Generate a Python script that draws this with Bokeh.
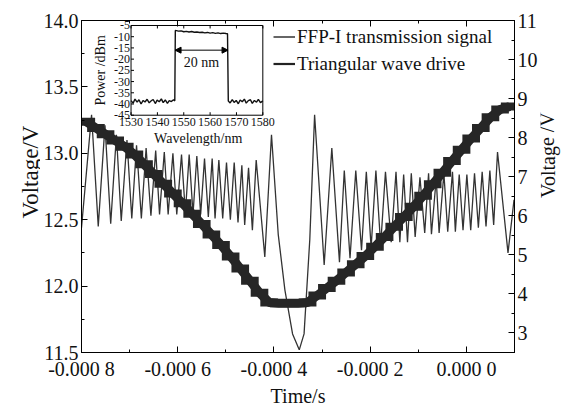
from bokeh.plotting import figure
from bokeh.layouts import row
from bokeh.models import (Range1d, LinearAxis, FixedTicker, CustomJSTickFormatter,
                          NumeralTickFormatter, Legend, LegendItem, Arrow, NormalHead)
from bokeh.core.properties import value
from bokeh.embed import file_html
from bokeh.resources import INLINE

FONT = "Liberation Serif"

# ---- FFP-I transmission signal: extrema (time in microseconds, left axis V)
sig_t_us = [-800, -779.1, -765.2, -751.2, -739.3, -727.4, -717.4, -705.5, -695.5, -685.6,
            -675.6, -665.7, -655.7, -645.8, -637.8, -627.9, -619.9, -610.0, -602.0, -592.1,
            -584.1, -576.2, -568.2, -560.3, -552.3, -544.3, -536.4, -528.4, -522.4, -514.5,
            -506.5, -498.6, -490.6, -482.6, -474.7, -466.7, -460.8, -452.8, -444.8, -436.9,
            -419.0, -405.1, -391.1, -377.2, -361.3, -347.4, -337.4, -325.5, -315.5, -295.6,
            -279.7, -263.8, -253.8, -241.9, -229.9, -218.0, -208.0, -198.0, -188.1, -178.2,
            -168.2, -156.3, -146.3, -138.3, -130.4, -122.4, -114.5, -106.5, -96.5, -86.6,
            -78.6, -72.6, -62.7, -56.7, -46.8, -38.8, -28.9, -22.9, -14.9, -7.0,
            1.0, 9.0, 16.9, 24.9, 32.8, 40.8, 48.8, 56.7, 64.7, 86.5, 99.0]
sig_v = [12.44, 13.29, 12.45, 13.21, 12.47, 13.14, 12.49, 13.10, 12.51, 13.06,
         12.51, 13.04, 12.53, 13.02, 12.54, 13.01, 12.54, 13.00, 12.54, 12.99,
         12.55, 12.99, 12.54, 12.98, 12.54, 12.96, 12.52, 12.96, 12.51, 12.95,
         12.51, 12.93, 12.50, 12.93, 12.48, 12.91, 12.46, 12.89, 12.42, 12.95,
         12.22, 13.14, 12.39, 11.97, 11.64, 11.52, 11.64, 12.35, 13.29, 12.16,
         13.04, 12.18, 12.87, 12.21, 12.87, 12.27, 12.86, 12.29, 12.87, 12.31,
         12.86, 12.33, 12.86, 12.33, 12.84, 12.33, 12.85, 12.37, 12.82, 12.40,
         12.85, 12.39, 12.81, 12.40, 12.85, 12.41, 12.86, 12.41, 12.84, 12.42,
         12.84, 12.42, 12.85, 12.44, 12.86, 12.45, 12.87, 12.46, 13.01, 12.25, 12.65]

# ---- Triangular wave drive: staircase levels (step start time in microseconds, right axis V)
tri_t_us = [-800, -780, -760, -740, -720, -700, -680, -660, -640, -620,
            -600, -580, -560, -540, -520, -500, -480, -460, -440, -420,
            -400, -380, -360, -340, -320, -300, -280, -260, -240, -220,
            -200, -180, -160, -140, -120, -100, -80, -60, -40, -20,
            0, 20, 40, 60, 80, 100]
tri_v = [8.41, 8.25, 8.09, 7.93, 7.77, 7.57, 7.32, 7.07, 6.82, 6.57,
         6.32, 6.05, 5.79, 5.52, 5.25, 4.96, 4.65, 4.34, 4.03, 3.78,
         3.76, 3.76, 3.76, 3.78, 3.96, 4.15, 4.34, 4.55, 4.76, 4.97,
         5.21, 5.46, 5.72, 5.97, 6.23, 6.51, 6.81, 7.10, 7.40, 7.69,
         7.98, 8.25, 8.52, 8.72, 8.80, 8.80]

# ---- Inset: spectrum (wavelength nm, power dBm)
ins_wl = [1530.0, 1530.8, 1531.5, 1532.3, 1533.0, 1533.8, 1534.6, 1535.3, 1536.1, 1536.9,
          1537.6, 1538.4, 1539.2, 1539.9, 1540.7, 1541.5, 1542.2, 1543.0, 1543.8, 1544.5,
          1545.3, 1546.1, 1546.6, 1546.8, 1548.0, 1549.0, 1550.0, 1551.0, 1552.0, 1553.0,
          1554.0, 1555.0, 1556.0, 1557.0, 1558.0, 1559.0, 1560.0, 1561.0, 1562.0, 1563.0,
          1564.0, 1565.0, 1566.0, 1566.6, 1566.9, 1567.6, 1568.4, 1569.1, 1569.9, 1570.7,
          1571.4, 1572.2, 1573.0, 1573.7, 1574.5, 1575.3, 1576.0, 1576.8, 1577.6, 1578.3,
          1579.1, 1580.0]
ins_p = [-38.5, -39.6, -37.8, -39.2, -38.1, -40.0, -38.4, -39.1, -37.9, -39.5,
         -38.6, -38.0, -39.8, -38.3, -39.0, -37.7, -39.4, -38.2, -39.7, -38.5,
         -38.9, -38.1, -38.6, -7.2, -7.5, -7.4, -7.8, -7.6, -7.9, -7.7,
         -8.0, -7.9, -8.1, -8.0, -8.3, -8.1, -8.4, -8.2, -8.5, -8.3,
         -8.6, -8.4, -8.6, -8.7, -38.7, -39.5, -38.0, -39.3, -38.4, -39.9,
         -38.2, -39.0, -37.8, -39.6, -38.5, -38.1, -39.7, -38.4, -39.2, -37.9,
         -39.4, -38.6]
ins_xticks = [1530, 1540, 1550, 1560, 1570, 1580]
ins_yticks = [-5, -10, -15, -20, -25, -30, -35, -40, -45]
arrow_wl = [1546.7, 1566.8]
arrow_p = -16.0
arrow_label = "20 nm"

x_major = [-0.0008, -0.0006, -0.0004, -0.0002, 0.0]
x_minor = [-0.0007, -0.0005, -0.0003, -0.0001, 0.0001]
yl_major = [11.5, 12.0, 12.5, 13.0, 13.5, 14.0]
yl_minor = [11.75, 12.25, 12.75, 13.25, 13.75]
yr_major = [3, 4, 5, 6, 7, 8, 9, 10, 11]
yr_minor = [2.5, 3.5, 4.5, 5.5, 6.5, 7.5, 8.5, 9.5, 10.5]
left_title = "Voltage/V"
right_title = "Voltage /V"

sig_t = [t * 1e-6 for t in sig_t_us]
tri_t = [t * 1e-6 for t in tri_t_us]
tri_mid_t = [(a + b) / 2 * 1e-6 for a, b in zip(tri_t_us[:-1], tri_t_us[1:])]
tri_mid_v = tri_v[:-1]

# layout constants (pixels)
W, H = 572, 409
LW = 40                                    # left strip (vertical title)
FL, FR, FT, FB = 79, 516, 20, 353          # main frame
P_END = FR + 24                            # main figure ends after the right tick labels
RW = W - P_END                             # right strip (vertical title)
IL, IR, IT, IB = 129, 262, 25, 115         # inset frame
sx = (1580 - 1530) / (IR - IL)
sy = (-5 - (-45)) / (IB - IT)
PW = P_END - LW

p = figure(width=PW, height=H, x_range=Range1d(-0.0008, 0.0001), y_range=Range1d(11.5, 14.0),
           output_backend="svg", toolbar_location=None,
           min_border_left=FL - LW, min_border_right=P_END - FR, min_border_top=FT,
           min_border_bottom=H - FB)
p.extra_y_ranges = {"right": Range1d(2.5, 11.0),
                    "iy": Range1d(-45 - (FB - IB) * sy, -5 + (IT - FT) * sy)}
p.extra_x_ranges = {"ix": Range1d(1530 - (IL - FL) * sx, 1580 + (FR - IR) * sx)}
p.grid.visible = False
p.outline_line_color = "black"
p.outline_line_width = 1
p.background_fill_color = "white"
p.border_fill_color = "white"

def style_axis(ax, size="20px"):
    ax.axis_line_color = "black"
    ax.major_tick_in = 6
    ax.major_tick_out = 0
    ax.minor_tick_in = 3
    ax.minor_tick_out = 0
    ax.major_tick_line_color = "black"
    ax.minor_tick_line_color = "black"
    ax.major_label_text_font = FONT
    ax.major_label_text_font_size = size
    ax.major_label_text_color = "#111111"
    ax.axis_label_text_font = FONT
    ax.axis_label_text_font_size = "20px"
    ax.axis_label_text_font_style = "normal"
    ax.axis_label_text_color = "#111111"

xa = p.xaxis[0]
style_axis(xa)
xa.ticker = FixedTicker(ticks=x_major, minor_ticks=x_minor)
xa.formatter = CustomJSTickFormatter(code="""
const v = Math.round(tick * 1e4);
return (v < 0 ? '-' : '') + '0.000 ' + Math.abs(v);
""")
xa.axis_label = "Time/s"
xa.major_label_standoff = 5
xa.axis_label_standoff = 2

ya = p.yaxis[0]
style_axis(ya)
ya.ticker = FixedTicker(ticks=yl_major, minor_ticks=yl_minor)
ya.formatter = NumeralTickFormatter(format="0.0")
ya.major_label_standoff = 3

ra = LinearAxis(y_range_name="right")
style_axis(ra)
ra.ticker = FixedTicker(ticks=yr_major, minor_ticks=yr_minor)
ra.major_label_standoff = 3
p.add_layout(ra, "right")

ta = LinearAxis()
style_axis(ta, size="0px")
ta.ticker = FixedTicker(ticks=x_major, minor_ticks=x_minor)
ta.major_label_standoff = 0
p.add_layout(ta, "above")

# main data
p.line(sig_t, sig_v, line_color="#333333", line_width=1.3)
p.line(tri_mid_t, tri_mid_v, y_range_name="right", line_color="#262626", line_width=9)
p.step(tri_t, tri_v, mode="after", y_range_name="right", line_color="#262626",
       line_width=8, line_join="miter")

# legend (off-screen dummy renderers with thin lines)
r1 = p.line([-1.0, -0.9], [0, 0], line_color="#333333", line_width=1.5)
r2 = p.line([-1.0, -0.9], [0, 0], line_color="#222222", line_width=2.2)
leg = Legend(items=[LegendItem(label="FFP-I transmission signal", renderers=[r1]),
                    LegendItem(label="Triangular wave drive", renderers=[r2])],
             location=(192, 276), orientation="vertical")
leg.background_fill_alpha = 0
leg.border_line_alpha = 0
leg.label_text_font = FONT
leg.label_text_font_size = "19px"
leg.label_text_color = "#111111"
leg.glyph_width = 22
leg.glyph_height = 25
leg.label_height = 25
leg.label_standoff = 2
leg.spacing = 2
leg.padding = 0
leg.margin = 0
p.add_layout(leg, "center")

# inset
p.quad(left=[1530], right=[1580], bottom=[-45], top=[-5], x_range_name="ix", y_range_name="iy",
       fill_color="white", line_color="black", line_width=1)
p.line(ins_wl, ins_p, x_range_name="ix", y_range_name="iy", line_color="#111111", line_width=1.4)
tlx = 3 * sy
tly = 3 * sx
p.segment(x0=ins_xticks, x1=ins_xticks, y0=[-45] * len(ins_xticks), y1=[-45 + tlx] * len(ins_xticks),
          x_range_name="ix", y_range_name="iy", line_color="black")
p.segment(x0=ins_xticks, x1=ins_xticks, y0=[-5] * len(ins_xticks), y1=[-5 - tlx] * len(ins_xticks),
          x_range_name="ix", y_range_name="iy", line_color="black")
p.segment(x0=[1530] * len(ins_yticks), x1=[1530 + tly] * len(ins_yticks), y0=ins_yticks, y1=ins_yticks,
          x_range_name="ix", y_range_name="iy", line_color="black")
p.text(x=ins_xticks, y=[-45 - 3 * sy] * len(ins_xticks), text=[str(v) for v in ins_xticks],
       x_range_name="ix", y_range_name="iy", text_font=value(FONT), text_font_size="12px",
       text_align="center", text_baseline="top", text_color="#111111")
p.text(x=[1530 - 1 * sx] * len(ins_yticks), y=ins_yticks, text=[str(v) for v in ins_yticks],
       x_range_name="ix", y_range_name="iy", text_font=value(FONT), text_font_size="12px",
       text_align="right", text_baseline="middle", text_color="#111111")
p.text(x=[1530 - 31 * sx], y=[-25], text=["Power /dBm"], angle=1.5708,
       x_range_name="ix", y_range_name="iy", text_font=value(FONT), text_font_size="14px",
       text_align="center", text_baseline="middle", text_color="#111111")
p.text(x=[1555.5], y=[-45 - 23 * sy], text=["Wavelength/nm"],
       x_range_name="ix", y_range_name="iy", text_font=value(FONT), text_font_size="14px",
       text_align="center", text_baseline="middle", text_color="#111111")
p.add_layout(Arrow(start=NormalHead(size=6, fill_color="black", line_color="black"),
                   end=NormalHead(size=6, fill_color="black", line_color="black"),
                   x_start=arrow_wl[0], x_end=arrow_wl[1], y_start=arrow_p, y_end=arrow_p,
                   x_range_name="ix", y_range_name="iy", line_color="black", line_width=1))
p.text(x=[(arrow_wl[0] + arrow_wl[1]) / 2], y=[arrow_p - 12 * sy], text=[arrow_label],
       x_range_name="ix", y_range_name="iy", text_font=value(FONT), text_font_size="14px",
       text_align="center", text_baseline="middle", text_color="#111111")

# side strips: their frames are aligned with the main frame (rows align frame top/bottom),
# so the y range is the pixel span of that frame, measured from the bottom of the picture
def title_strip(width, cx, cy, txt, size):
    s = figure(width=width, height=H, x_range=Range1d(0, width), y_range=Range1d(H - FB, H - FT),
               output_backend="svg", toolbar_location=None, x_axis_type=None, y_axis_type=None,
               min_border_left=0, min_border_right=0, min_border_top=0, min_border_bottom=0)
    s.grid.visible = False
    s.outline_line_color = None
    s.background_fill_color = "white"
    s.border_fill_color = "white"
    s.text(x=[cx], y=[H - cy], text=[txt], angle=1.5708, text_font=value(FONT),
           text_font_size=size, text_align="center", text_baseline="middle", text_color="#111111")
    return s

pl = title_strip(LW, 30, 172, left_title, "23px")
pr = title_strip(RW, 547 - P_END, 155, right_title, "20px")

layout = row(pl, p, pr, spacing=0)
open("out.html", "w").write(file_html(layout, INLINE))
